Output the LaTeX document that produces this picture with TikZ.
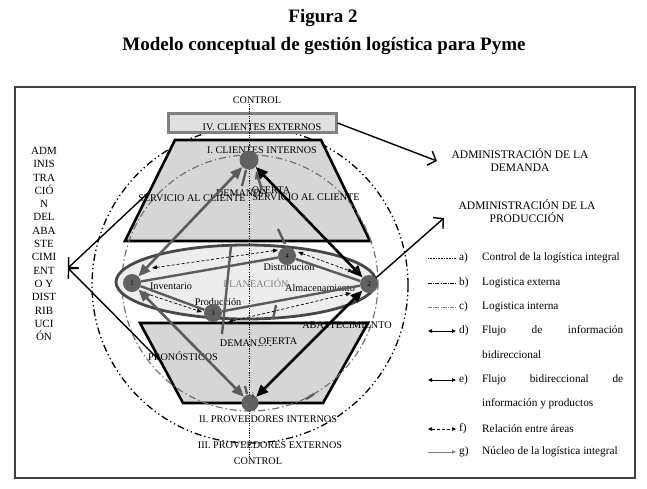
\documentclass[tikz,border=0pt]{standalone}
\usepackage{fontspec}
\setmainfont{Liberation Serif}
\usetikzlibrary{arrows.meta}
\definecolor{trapf}{gray}{0.84}
\definecolor{ellf}{gray}{0.93}
\definecolor{boxf}{gray}{0.88}
\definecolor{boxd}{gray}{0.5}
\definecolor{nodeg}{gray}{0.38}
\definecolor{lineg}{gray}{0.36}
\definecolor{ellb}{gray}{0.28}
\definecolor{intg}{gray}{0.45}
\definecolor{frm}{gray}{0.25}
\begin{document}
\begin{tikzpicture}[x=1pt,y=-1pt,
  lbl/.style={font=\fontsize{10.2}{12}\selectfont, inner sep=0pt},
  leg/.style={font=\fontsize{11.3}{13}\selectfont, anchor=west, inner sep=0pt},
  adml/.style={font=\fontsize{11.5}{13}\selectfont, align=center, inner sep=0pt},
  stn/.style={circle, fill=nodeg, minimum size=18pt, inner sep=0pt, font=\fontsize{7}{8}\selectfont},
  blkflow/.style={line width=2.6pt, black, {Triangle[length=12pt,width=10pt]}-{Triangle[length=12pt,width=10pt]}},
  gryflow/.style={line width=2.6pt, lineg, {Triangle[length=12pt,width=10pt]}-{Triangle[length=12pt,width=10pt]}},
  corel/.style={line width=2.4pt, lineg},
  relar/.style={densely dashed, line width=0.7pt, {Triangle[length=5pt,width=4pt]}-{Triangle[length=5pt,width=4pt]}},
  extl/.style={line width=1.3pt, dash pattern=on 7pt off 3pt on 1.3pt off 3pt on 1.3pt off 3pt},
  intl/.style={line width=1.2pt, intg, dash pattern=on 7pt off 3pt on 1.3pt off 3pt},
  ctl/.style={line width=1pt, dash pattern=on 1.2pt off 1.2pt},
  admar/.style={line width=1.4pt, -{Straight Barb[length=7pt,width=15pt,line width=1.4pt]}},
  trapz/.style={fill=trapf, draw=black, line width=2.6pt, line join=miter}
]
\useasboundingbox (0,0) rectangle (647,488);

% title
\node[font=\fontsize{19}{22}\bfseries\selectfont] (t1) at (323,18) {Figura 2};
\node[font=\fontsize{19}{22}\bfseries\selectfont] (t2) at (324,46) {Modelo conceptual de gestión logística para Pyme};

% frame
\draw[frm, line width=1.5pt] (15,87) rectangle (635,478);

% outer circle (logistica externa)
\draw[extl] (250,285) circle [radius=158];

% box IV
\node[draw=boxd, fill=boxf, line width=3pt, minimum width=168pt, minimum height=19pt, inner sep=0pt] (ce) at (252,123) {};
\node[lbl] (cel) at (262,127) {IV. CLIENTES EXTERNOS};

% trapezoids
\draw[trapz] (175,140) -- (321,140) -- (370,241) -- (125,241) -- cycle;
\draw[trapz] (140,323) -- (368,323) -- (323,403) -- (183,403) -- cycle;

% inner circle (logistica interna)
\draw[intl] (250,283) circle [radius=128];

% ellipse
\draw[fill=ellf, draw=ellb, line width=2.8pt] (246,282) ellipse [x radius=130, y radius=37];

% labels in trapezoids
\node[lbl] (ci) at (262,150) {I. CLIENTES INTERNOS};
\node[lbl] (sc1) at (192,198) {SERVICIO AL CLIENTE};
\node[lbl] (dm1) at (242,193) {DEMANDA};
\node[lbl] (of1) at (271,190) {OFERTA};
\node[lbl] (sc2) at (306,197) {SERVICIO AL CLIENTE};
\node[lbl] (ab) at (347,325) {ABASTECIMIENTO};
\node[lbl] (dm2) at (246,343) {DEMANDA};
\node[lbl, fill=trapf, inner sep=1pt] (of2) at (278,341) {OFERTA};
\node[lbl] (pr) at (183,356) {PRONÓSTICOS};
\node[lbl, text=gray] (pl) at (256,283) {PLANEACIÓN};
\node[lbl] (inv) at (171,286) {Inventario};
\node[lbl] (prd) at (218,302) {Producción};
\node[lbl] (dis) at (289,267) {Distribución};
\node[lbl] (alm) at (320,288) {Almacenamiento};

% control line
\node[lbl] (ctop) at (257,100) {CONTROL};
\node[lbl] (pi) at (268,419) {II. PROVEEDORES INTERNOS};
\node[lbl] (pe) at (270,445) {III. PROVEEDORES EXTERNOS};
\node[lbl] (cbot) at (258,461) {CONTROL};
\draw[ctl] (ctop.south -| 249,0) -- (cbot.north -| 249,0);

% núcleo fragments
\draw[corel] (231,246) -- (222,334);
\draw[corel] (246,170) -- (242,186);
\draw[corel, -{Triangle[length=8pt,width=7pt]}] (262,190) -- (256,171);
\draw[corel] (278,229) -- (285,244);
\draw[corel] (276,305) -- (273,319);
\draw[corel] (245,386) -- (247,394);
\draw[corel] (306,399) -- (314,394);

% station nodes
\node[stn] (n1) at (132,283) {1};
\node[stn] (n2) at (369,284) {2};
\node[stn] (n3) at (213,313) {3};
\node[stn] (n4) at (287,256) {4};
\node[stn, minimum size=19pt] (top) at (249,160) {};
\node[stn, minimum size=17pt] (bot) at (250,403) {};
\node[font=\fontsize{7}{8}\selectfont, inner sep=0pt] (boti) at (253,395) {i};

% core lines inside ellipse
\draw[corel] (n1) -- (n4);
\draw[corel] (n4) -- (n2);
\draw[corel] (n1) -- (n3);
\draw[corel] (n3) -- (n2);

% relation arrows
\coordinate (r1a) at (152,268); \coordinate (r1b) at (278,250);
\coordinate (r2a) at (298,252); \coordinate (r2b) at (353,272);
\coordinate (r3a) at (141,292); \coordinate (r3b) at (202,312);
\coordinate (r4a) at (228,322); \coordinate (r4b) at (351,293);
\draw[relar] (r1a) -- (r1b);
\draw[relar] (r2a) -- (r2b);
\draw[relar] (r3a) -- (r3b);
\draw[relar] (r4a) -- (r4b);

% flows to internal clients/suppliers
\draw[gryflow] (n1) -- (top);
\draw[blkflow] (n2) -- (top);
\draw[gryflow] (n1) -- (bot);
\draw[blkflow] (n2) -- (bot);

% administration labels and arrows
\node[adml] (adem) at (520,160) {ADMINISTRACIÓN DE LA\\DEMANDA};
\node[adml] (aprod) at (527,211) {ADMINISTRACIÓN DE LA\\PRODUCCIÓN};
\node[font=\fontsize{11}{13.3}\selectfont, align=center, inner sep=0pt] (aabas) at (44,244)
  {ADM\\INIS\\TRA\\CIÓ\\N\\DEL\\ABA\\STE\\CIMI\\ENT\\O Y\\DIST\\RIB\\UCI\\ÓN};
\coordinate (pdem) at (437,161);
\coordinate (pprod) at (444,218);
\coordinate (pabas) at (68,268);
\coordinate (sup) at (148,193);
\coordinate (inf) at (163,364);
\draw[admar] (ce.east) -- (pdem);
\draw[admar] (n2) -- (pprod);
\draw[admar] (sup) -- (pabas);
\draw[admar] (inf) -- (pabas);

% legend
\coordinate (la0) at (428,258); \coordinate (la1) at (456,258);
\coordinate (lb0) at (428,283); \coordinate (lb1) at (456,283);
\coordinate (lc0) at (428,307); \coordinate (lc1) at (456,307);
\coordinate (ld0) at (428,331); \coordinate (ld1) at (456,331);
\coordinate (le0) at (428,380); \coordinate (le1) at (456,380);
\coordinate (lf0) at (428,429); \coordinate (lf1) at (456,429);
\coordinate (lg0) at (428,452); \coordinate (lg1) at (456,452);
\draw[line width=0.9pt, dash pattern=on 1pt off 0.6pt] (la0) -- (la1);
\draw[line width=0.9pt, dash pattern=on 4pt off 1.2pt on 1pt off 1.2pt] (lb0) -- (lb1);
\draw[line width=0.8pt, gray, dash pattern=on 4pt off 1.2pt on 1pt off 1.2pt] (lc0) -- (lc1);
\draw[line width=0.8pt, {Triangle[length=4pt,width=3.5pt]}-{Triangle[length=4pt,width=3.5pt]}] (ld0) -- (ld1);
\draw[line width=1pt, {Triangle[length=4pt,width=3.5pt]}-{Triangle[length=4pt,width=3.5pt]}] (le0) -- (le1);
\draw[line width=0.6pt, densely dashed, {Triangle[length=4pt,width=3.5pt]}-{Triangle[length=4pt,width=3.5pt]}] (lf0) -- (lf1);
\draw[line width=0.6pt, gray, -{Triangle[length=4pt,width=3.5pt]}] (lg0) -- (lg1);
\node[leg] (ta) at (459,258) {a)};
\node[leg] (tb) at (459,283) {b)};
\node[leg] (tc) at (459,307) {c)};
\node[leg] (td) at (459,331) {d)};
\node[leg] (te) at (459,380) {e)};
\node[leg] (tf) at (459,429) {f)};
\node[leg] (tg) at (459,452) {g)};
\node[leg] (xa) at (482,258) {Control de la logística integral};
\node[leg] (xb) at (482,283) {Logistica externa};
\node[leg] (xc) at (482,307) {Logistica interna};
\node[leg] (xd) at (482,331) {\makebox[141pt][s]{Flujo de información}};
\node[leg] (xd2) at (482,355) {bidireccional};
\node[leg] (xe) at (482,380) {\makebox[141pt][s]{Flujo bidireccional de}};
\node[leg] (xe2) at (482,404) {información y productos};
\node[leg] (xf) at (482,429) {Relación entre áreas};
\node[leg] (xg) at (482,452) {Núcleo de la logística integral};
\end{tikzpicture}
\end{document}
